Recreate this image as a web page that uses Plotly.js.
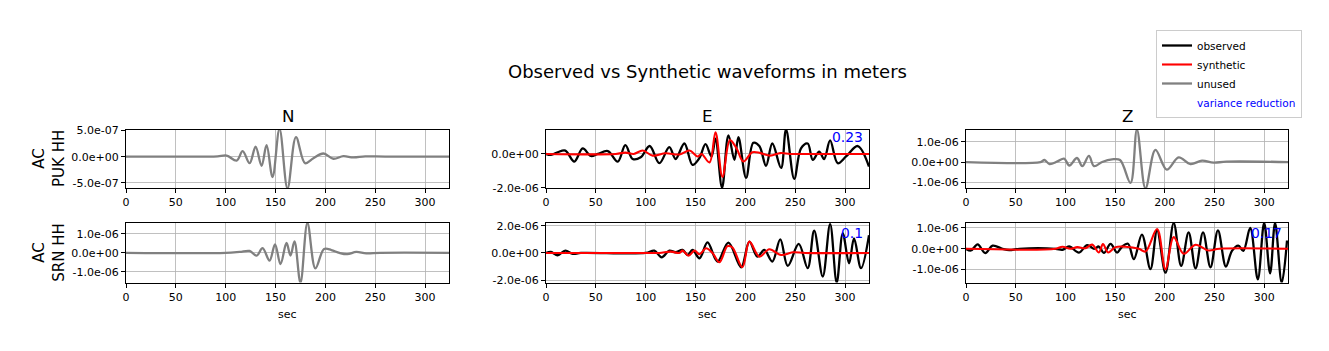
<!DOCTYPE html>
<html>
<head>
<meta charset="utf-8">
<script src="https://cdn.plot.ly/plotly-3.0.1.min.js"></script>
<style>html,body{margin:0;padding:0;background:#fff;}#chart{width:1329px;height:351px;}</style>
</head>
<body>
<div id="chart"></div>
<script>
// ---------------- DATA (amplitudes in micrometres, times in seconds) ----------------
const SCALE = 1e-6;
const components = ["N", "E", "Z"];
const stations = ["AC<br>PUK HH", "AC<br>SRN HH"];
const legendNames = ["observed", "synthetic", "unused", "variance reduction"];
const xTickVals = [0, 50, 100, 150, 200, 250, 300];
const xTickText = ["0", "50", "100", "150", "200", "250", "300"];

// PUK N (unused)
const pukN_t = [0, 80, 92, 101, 111, 117, 124, 130, 136, 141, 147, 154, 162, 170.5, 179.6, 188, 198, 208, 218, 228, 240, 260, 324];
const pukN_unused = [0, 0, 0.005, 0.02, -0.075, 0.106, -0.125, 0.19, -0.175, 0.22, -0.39, 0.53, -0.61, 0.375, -0.125, -0.03, 0.06, -0.04, 0.01, -0.015, 0.005, 0, 0];

// PUK E observed / synthetic
const pukE_obs_t = [0, 5, 11.7, 19.4, 28.4, 36.8, 45, 52, 62, 72, 79.6, 87, 95, 104, 113.7, 123.7, 130, 138.8, 147, 153.8, 160, 166, 170, 176.6, 183, 189, 193, 200.7, 208, 214, 220.7, 227, 235.8, 240.8, 249, 255.8, 262.5, 267.6, 274, 279, 285, 292.6, 301, 312.7, 324];
const pukE_obs = [0, -0.06, 0.1, 0.2, -0.45, 0.33, -0.12, 0, 0.17, -0.45, 0.52, -0.3, -0.2, 0.47, -0.55, 0.4, -0.3, 0.62, -0.65, -0.25, 0.58, -0.15, 0.9, -2.0, 1.1, -0.35, 1.0, -1.42, 0.66, 0.47, -0.7, 0.62, -0.83, 1.45, -1.48, 0.33, 0.62, -0.35, 0.14, -0.3, 0.8, -0.55, -0.15, 0.47, -0.75];
const pukE_syn_t = [0, 70, 79.6, 88, 97, 107, 120, 134, 144, 152, 156, 164, 170, 177, 184.5, 191, 198, 207, 215, 225, 235, 245, 260, 324];
const pukE_syn = [0, 0, 0.08, 0, 0.2, -0.1, 0.04, -0.03, 0.2, -0.15, 0, -0.5, 1.28, -1.36, 0.82, 0.35, -0.45, 0.1, 0.05, -0.1, 0.05, 0, 0, 0];
const pukE_vr = "0.23";

// PUK Z (unused)
const pukZ_t = [0, 75, 79, 84, 92, 98.7, 104, 111.7, 117, 123.7, 128.8, 137, 147, 155, 165.5, 172, 180.6, 190.6, 202, 214, 225.8, 237.5, 249, 262, 324];
const pukZ_unused = [0, 0, 0.1, -0.1, 0.03, 0.17, -0.17, 0.2, -0.2, 0.3, -0.2, 0, 0.13, 0.1, -1.03, 1.6, -1.3, 0.6, -0.37, 0.23, -0.1, 0.07, -0.03, 0.02, 0];

// SRN N (unused)
const srnN_t = [0, 100, 114, 124, 131, 137, 144, 149.5, 155, 161, 165, 169, 175, 182, 190, 198.7, 206, 214, 222, 231, 241, 255, 324];
const srnN_unused = [0, 0, 0.05, 0.1, -0.15, 0.25, -0.41, 0.45, -0.59, 0.52, -0.14, 0.6, -1.58, 1.58, -0.82, 0.2, 0.15, 0, -0.07, 0.05, -0.03, 0, 0];

// SRN E observed / synthetic
const srnE_obs_t = [0, 5, 11.7, 19.4, 26.8, 35, 100, 108.7, 116, 123.7, 130, 137, 142, 147, 154, 162, 172, 183, 195.7, 204, 212, 219, 227, 235, 242.5, 253.5, 262.5, 269, 277.6, 285, 291.6, 297.7, 304, 309, 316, 324];
const srnE_obs = [0, 0.07, -0.17, 0.17, -0.07, 0, 0, 0.17, -0.32, 0.17, 0.05, 0.22, -0.15, 0.22, -0.39, 0.78, -0.63, 0.76, -1.05, 0.83, -0.27, 0.22, -0.63, 1.0, -0.95, 0.66, -1.12, 1.63, -1.73, 2.12, -2.17, 1.44, -0.76, 1.07, -1.12, 1.3];
const srnE_syn_t = [0, 100, 113.7, 125, 133.7, 137, 143, 149, 154, 160.5, 167, 174, 182, 187, 197, 204, 214, 224, 235.8, 247.5, 260, 324];
const srnE_syn = [0, 0, 0, 0.1, 0, 0.17, -0.2, 0.17, -0.1, 0.34, 0, -0.68, 0.5, 0.4, -1.05, 0.83, -0.27, 0.27, -0.15, 0.05, 0, 0];
const srnE_vr = "0.1";

// SRN Z observed / synthetic
const srnZ_obs_t = [0, 5, 11.7, 19.4, 26.8, 36.8, 43.5, 53.5, 90, 97, 103.7, 113.7, 122, 128.8, 133.7, 138.8, 145.5, 152, 157, 163, 168.9, 177, 185.6, 192.3, 200.7, 209, 216.5, 224, 231, 238.5, 246, 253.5, 261.5, 267.6, 274, 279, 286, 293.6, 300, 306, 311, 317.7, 323];
const srnZ_obs = [0, -0.08, 0.21, -0.21, 0.15, 0, -0.06, 0, 0, -0.05, 0.11, -0.18, 0.18, 0, 0.11, -0.2, 0.24, -0.18, 0.1, 0.24, -0.5, 0.68, -0.98, 0.89, -1.15, 1.24, -0.82, 0.79, -0.94, 0.79, -0.89, 0.89, -0.85, -0.1, 0.15, -0.1, 1.0, -1.47, 1.24, -1.18, 1.24, -1.63, 0.4];
const srnZ_syn_t = [0, 90, 97, 105, 112, 120, 127, 133.7, 137.8, 143, 150.5, 160.5, 174, 180.6, 192.3, 200.7, 209, 219, 230.8, 244, 255, 324];
const srnZ_syn = [0, 0, 0.1, 0, 0.08, 0.03, 0.2, -0.18, 0.23, -0.18, 0.08, 0.1, 0, -0.13, 0.95, -0.98, 0.56, -0.24, 0.19, -0.08, 0, 0];
const srnZ_vr = "0.17";

// Y axis tick values (metres) and labels per panel (row-major: PUK N,E,Z ; SRN N,E,Z)
const yTickVals = [[-5e-7, 0, 5e-7], [-2e-6, 0], [-1e-6, 0, 1e-6], [-1e-6, 0, 1e-6], [-2e-6, 0, 2e-6], [-1e-6, 0, 1e-6]];
const yTickText = [["-5.0e-07", "0.0e+00", "5.0e-07"], ["-2.0e-06", "0.0e+00"], ["-1.0e-06", "0.0e+00", "1.0e-06"], ["-1.0e-06", "0.0e+00", "1.0e-06"], ["-2.0e-06", "0.0e+00", "2.0e-06"], ["-1.0e-06", "0.0e+00", "1.0e-06"]];
const yRanges = [[-6.0e-7, 5.1e-7], [-2.02e-6, 1.42e-6], [-1.28e-6, 1.58e-6], [-1.57e-6, 1.58e-6], [-2.17e-6, 2.2e-6], [-1.62e-6, 1.24e-6]];
const xRange = [0, 324];

// ---------------- BUILD ----------------
const W = 1329, H = 351;
const m = a => a.map(v => v * SCALE);
const FONT = "DejaVu Sans, Liberation Sans, sans-serif";
const colPx = [[126, 449], [546, 869], [966, 1288]];
const rowPx = [[130, 188], [223, 282.5]];
const px2x = p => p / W, px2y = p => 1 - p / H;

function tr(t, v, ax, color, name, show, width) {
  return {
    x: t, y: m(v), xaxis: "x" + (ax === 1 ? "" : ax), yaxis: "y" + (ax === 1 ? "" : ax),
    type: "scatter", mode: "lines", name: name, legendgroup: name, showlegend: show,
    line: { color: color, width: width, shape: "spline", smoothing: 1 }, hoverinfo: "skip"
  };
}
const BLACK = "#000000", RED = "#ff0000", GRAY = "#808080";
const data = [
  tr(pukE_obs_t, pukE_obs, 2, BLACK, legendNames[0], true, 2.3),
  tr(pukE_syn_t, pukE_syn, 2, RED, legendNames[1], true, 2.1),
  tr(pukN_t, pukN_unused, 1, GRAY, legendNames[2], true, 2.3),
  { x: [null], y: [null], type: "scatter", mode: "lines", name: '<span style="color:#0000ff">' + legendNames[3] + '</span>',
    line: { color: "rgba(0,0,0,0)", width: 2 }, showlegend: true, hoverinfo: "skip" },
  tr(pukZ_t, pukZ_unused, 3, GRAY, legendNames[2], false, 2.3),
  tr(srnN_t, srnN_unused, 4, GRAY, legendNames[2], false, 2.3),
  tr(srnE_obs_t, srnE_obs, 5, BLACK, legendNames[0], false, 2.3),
  tr(srnE_syn_t, srnE_syn, 5, RED, legendNames[1], false, 2.1),
  tr(srnZ_obs_t, srnZ_obs, 6, BLACK, legendNames[0], false, 2.3),
  tr(srnZ_syn_t, srnZ_syn, 6, RED, legendNames[1], false, 2.1)
];

const layout = {
  width: W, height: H, autosize: false,
  margin: { l: 0, r: 0, t: 0, b: 0, pad: 0 },
  paper_bgcolor: "#ffffff", plot_bgcolor: "#ffffff",
  font: { family: FONT, size: 11, color: "#000000" },
  showlegend: true,
  legend: {
    x: px2x(1156), y: px2y(30), xanchor: "left", yanchor: "top",
    bgcolor: "#ffffff", bordercolor: "#cccccc", borderwidth: 1,
    font: { family: FONT, size: 10.5, color: "#000000" }, tracegroupgap: 0, itemwidth: 30
  },
  annotations: [],
  shapes: []
};

for (let r = 0; r < 2; r++) {
  for (let c = 0; c < 3; c++) {
    const i = r * 3 + c + 1;
    const s = i === 1 ? "" : String(i);
    layout["xaxis" + s] = {
      domain: [px2x(colPx[c][0]), px2x(colPx[c][1])], anchor: "y" + s, range: xRange,
      tickmode: "array", tickvals: xTickVals, ticktext: xTickText,
      showgrid: true, gridcolor: "#b0b0b0", gridwidth: 0.8, zeroline: false,
      showline: true, linecolor: "#000000", linewidth: 1, mirror: true,
      ticks: "outside", ticklen: 4, tickwidth: 1, tickcolor: "#000000",
      tickfont: { family: FONT, size: 11, color: "#000000" }, fixedrange: true
    };
    layout["yaxis" + s] = {
      domain: [px2y(rowPx[r][1]), px2y(rowPx[r][0])], anchor: "x" + s, range: yRanges[i - 1],
      tickmode: "array", tickvals: yTickVals[i - 1], ticktext: yTickText[i - 1],
      showgrid: true, gridcolor: "#b0b0b0", gridwidth: 0.8, zeroline: false,
      showline: true, linecolor: "#000000", linewidth: 1, mirror: true,
      ticks: "outside", ticklen: 4, tickwidth: 1, tickcolor: "#000000",
      tickfont: { family: FONT, size: 11, color: "#000000" }, fixedrange: true
    };
  }
}

const ann = layout.annotations;
// main title
ann.push({ text: "Observed vs Synthetic waveforms in meters", xref: "paper", yref: "paper",
  x: px2x(707), y: px2y(72), xanchor: "center", yanchor: "middle", showarrow: false,
  font: { family: FONT, size: 18, color: "#000000" } });
// component titles
components.forEach((cName, c) => {
  ann.push({ text: cName, xref: "paper", yref: "paper", x: px2x((colPx[c][0] + colPx[c][1]) / 2), y: px2y(116),
    xanchor: "center", yanchor: "middle", showarrow: false, font: { family: FONT, size: 16.7, color: "#000000" } });
  ann.push({ text: "sec", xref: "paper", yref: "paper", x: px2x((colPx[c][0] + colPx[c][1]) / 2), y: px2y(314),
    xanchor: "center", yanchor: "middle", showarrow: false, font: { family: FONT, size: 11, color: "#000000" } });
});
// station labels
stations.forEach((sName, r) => {
  ann.push({ text: sName, xref: "paper", yref: "paper", x: px2x(49), y: px2y((rowPx[r][0] + rowPx[r][1]) / 2),
    xanchor: "center", yanchor: "middle", textangle: -90, showarrow: false,
    font: { family: FONT, size: 15, color: "#000000" } });
});
// variance reductions
[[pukE_vr, 1, 137], [srnE_vr, 1, 233], [srnZ_vr, 2, 233]].forEach(([txt, c, yp]) => {
  ann.push({ text: txt, xref: "paper", yref: "paper", x: px2x(colPx[c][1] - 4), y: px2y(yp),
    xanchor: "right", yanchor: "middle", showarrow: false, font: { family: FONT, size: 13.9, color: "#0000ff" } });
});

Plotly.newPlot("chart", data, layout, { staticPlot: true, displayModeBar: false });
</script>
</body>
</html>
